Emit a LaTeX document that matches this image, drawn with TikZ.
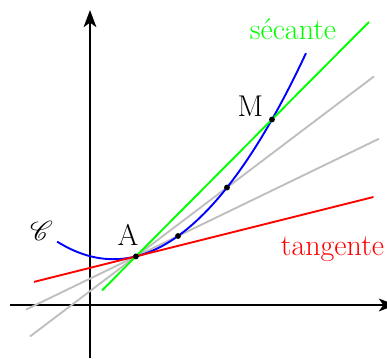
\documentclass[tikz,border=0pt]{standalone}
\usepackage{mathrsfs}
\usetikzlibrary{arrows.meta, calc}

\begin{document}
\begin{tikzpicture}[
    declare function={f(\x)=1.08+0.25*(\x-1.02)+0.25*(\x-1.02)^2;},
    axis/.style={line width=1.6pt, -{Stealth[length=3.8mm, width=2.8mm, inset=1mm]}},
    courbe/.style={blue, line width=1.2pt},
    droite/.style={line width=1.2pt},
    pt/.style={circle, fill=black, inner sep=0pt, minimum size=1.3mm},
    lbl/.style={anchor=base, font=\fontsize{19}{23}\selectfont}
  ]
  \useasboundingbox (-2,-1.178) rectangle (6.6,6.778);

  % axes
  \coordinate (xmin) at (-1.78,0);
  \coordinate (xmax) at (6.8,0);
  \coordinate (ymin) at (0,-1.18);
  \coordinate (ymax) at (0,6.556);
  \draw[axis] (xmin) -- (xmax);
  \draw[axis] (ymin) -- (ymax);

  % points de la courbe
  \foreach \n/\x in {A/1.02,P/1.956,Q/3.044,M/4.044} {
    \coordinate (\n) at (\x,{f(\x)});
  }
  \coordinate (T) at (2.02,1.33);

  % secantes et tangente
  \draw[droite, gray!50] ($(A)!-2.609!(P)$) -- ($(A)!5.771!(P)$);
  \draw[droite, gray!50] ($(A)!-1.163!(Q)$) -- ($(A)!2.614!(Q)$);
  \draw[courbe] plot[domain=-0.73:4.8, samples=60] (\x,{f(\x)});
  \draw[droite, green] ($(A)!-0.249!(M)$) -- ($(A)!1.713!(M)$);
  \draw[droite, red] ($(A)!-2.264!(T)$) -- ($(A)!5.28!(T)$);

  \foreach \n in {A,P,Q,M} {
    \node[pt] (dot\n) at (\n) {};
  }

  \node[lbl, green] (sec) at (4.511,5.889) {sécante};
  \node[lbl, red] (tan) at (5.389,1.089) {tangente};
  \node[lbl] (lM) at (3.567,4.178) {M};
  \node[lbl] (lA) at (0.844,1.333) {A};
  \node[lbl] (lC) at (-1.078,1.444) {$\mathscr{C}$};
\end{tikzpicture}
\end{document}
